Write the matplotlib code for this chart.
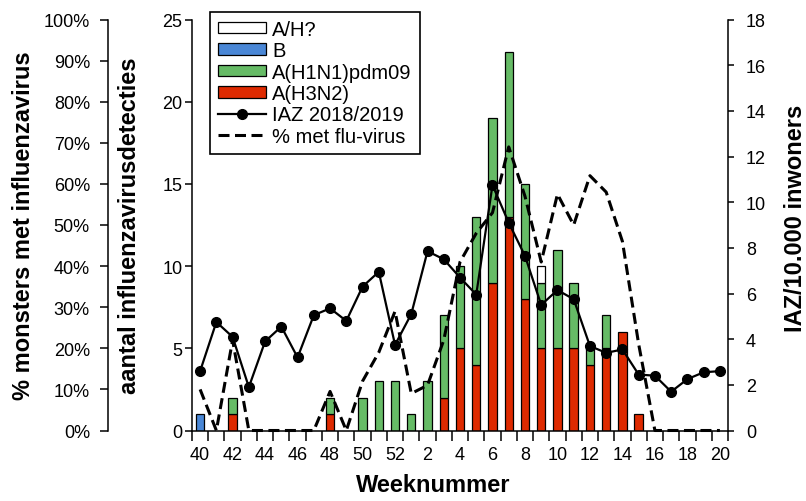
import matplotlib
matplotlib.use('Agg')
import matplotlib.pyplot as plt
import numpy as np
from matplotlib.patches import Patch
from matplotlib.lines import Line2D

plt.rcParams['font.family'] = ['Liberation Sans', 'DejaVu Sans']

# ---- data ----
weeks = ['40', '41', '42', '43', '44', '45', '46', '47', '48', '49', '50', '51', '52',
         '1', '2', '3', '4', '5', '6', '7', '8', '9', '10', '11', '12', '13', '14',
         '15', '16', '17', '18', '19', '20']
b_vals = [1, 0, 0, 0, 0, 0, 0, 0, 0, 0, 0, 0, 0,
          0, 0, 0, 0, 0, 0, 0, 0, 0, 0, 0, 0, 0, 0, 0, 0, 0, 0, 0, 0]
h3n2 = [0, 0, 1, 0, 0, 0, 0, 0, 1, 0, 0, 0, 0,
        0, 0, 2, 5, 4, 9, 13, 8, 5, 5, 5, 4, 5, 6, 1, 0, 0, 0, 0, 0]
h1n1 = [0, 0, 1, 0, 0, 0, 0, 0, 1, 0, 2, 3, 3,
        1, 3, 5, 5, 9, 10, 10, 7, 4, 6, 4, 1, 2, 0, 0, 0, 0, 0, 0, 0]
a_h = [0, 0, 0, 0, 0, 0, 0, 0, 0, 0, 0, 0, 0,
       0, 0, 0, 0, 0, 0, 0, 0, 1, 0, 0, 0, 0, 0, 0, 0, 0, 0, 0, 0]
iaz = [2.6, 4.75, 4.1, 1.9, 3.9, 4.55, 3.2, 5.05, 5.35, 4.8, 6.3, 6.95, 3.75,
       5.1, 7.85, 7.5, 6.7, 5.95, 10.75, 9.1, 7.65, 5.5, 6.15, 5.75, 3.7, 3.4,
       3.55, 2.45, 2.4, 1.7, 2.25, 2.55, 2.6]
pct = [10, 0, 22, 0, 0, 0, 0, 0, 9.5, 0, 12, 19, 29,
       9, 11, 22, 41, 48, 53, 69, 57, 41, 57.5, 50, 62, 58, 46, 21, 0, 0, 0, 0, 0]

c_blue = '#4A87D6'
c_green = '#66BB66'
c_red = '#DE2A00'

W, H = 806, 502
fig = plt.figure(figsize=(W / 100, H / 100), dpi=100)
L, R, T, B = 192, 728, 20.5, 431.5
ax = fig.add_axes([L / W, 1 - B / H, (R - L) / W, (B - T) / H])

x = np.arange(len(weeks))
bw = 0.52
edge = dict(edgecolor='black', linewidth=0.9)


def draw(vals, bottom, color):
    vals = np.asarray(vals, float)
    bottom = np.asarray(bottom, float)
    m = vals > 0
    ax.bar(x[m], vals[m], bw, bottom=bottom[m], color=color, **edge)


zeros = np.zeros(len(weeks))
h3 = np.asarray(h3n2, float)
h1 = np.asarray(h1n1, float)
draw(b_vals, zeros, c_blue)
draw(h3n2, zeros, c_red)
draw(h1n1, h3, c_green)
draw(a_h, h3 + h1, 'white')

ax.set_xlim(-0.5, len(weeks) - 0.5)
ax.set_ylim(0, 25)
ax.set_yticks(range(0, 26, 5))
ax.set_xticks(x[::2])
ax.set_xticklabels(weeks[::2])
ax.set_xticks(np.arange(-0.5, len(weeks), 1), minor=True)
ax.tick_params(axis='x', which='major', length=0, pad=11, labelsize=13)
ax.tick_params(axis='x', which='minor', length=7, width=1.1, direction='out')
ax.tick_params(axis='y', length=5, width=1.1, direction='out', labelsize=13, pad=2)
for s in ['top', 'right']:
    ax.spines[s].set_visible(False)
for s in ['left', 'bottom']:
    ax.spines[s].set_linewidth(1.1)

# percent axis
ax3 = ax.twinx()
ax3.set_ylim(0, 100)
ax3.yaxis.tick_left()
ax3.spines['left'].set_position(('outward', 60.5))
for s in ['top', 'right', 'bottom']:
    ax3.spines[s].set_visible(False)
ax3.spines['left'].set_linewidth(1.1)
ax3.set_yticks(range(0, 101, 10))
ax3.set_yticklabels([f'{v}%' for v in range(0, 101, 10)])
ax3.tick_params(axis='y', length=6, width=1.1, direction='out', labelsize=13, pad=7)
dash = (0, (3.6, 1.8))
ax3.plot(x, pct, color='black', lw=2.2, ls=dash, clip_on=False)

# IAZ axis
ax2 = ax.twinx()
ax2.set_ylim(0, 18)
ax2.set_yticks(range(0, 19, 2))
for s in ['top', 'left', 'bottom']:
    ax2.spines[s].set_visible(False)
ax2.spines['right'].set_linewidth(1.1)
ax2.tick_params(axis='y', length=4, width=1.1, direction='out', labelsize=13, pad=9)
ax2.plot(x, iaz, color='black', lw=1.6, marker='o', ms=7, clip_on=False)

handles = [Patch(facecolor='white', edgecolor='black', linewidth=0.9),
           Patch(facecolor=c_blue, edgecolor='black', linewidth=0.9),
           Patch(facecolor=c_green, edgecolor='black', linewidth=0.9),
           Patch(facecolor=c_red, edgecolor='black', linewidth=0.9),
           Line2D([], [], color='black', lw=1.6, marker='o', ms=7),
           Line2D([], [], color='black', lw=2.2, ls=dash)]
labels = ['A/H?', 'B', 'A(H1N1)pdm09', 'A(H3N2)', 'IAZ 2018/2019', '% met flu-virus']
leg = ax2.legend(handles, labels, loc='upper left',
                 bbox_to_anchor=(210 / W, 1 - 12.7 / H), bbox_transform=fig.transFigure,
                 borderaxespad=0, fancybox=False, edgecolor='black', framealpha=1,
                 fontsize=14.5, labelspacing=0.12, handlelength=2.4, handleheight=0.5,
                 handletextpad=0.3, borderpad=0.4, numpoints=1)
leg.get_frame().set_linewidth(1.2)
leg.set_zorder(10)

tkw = dict(fontsize=17, fontweight='bold', rotation=90, ha='center', va='center')
fig.text(24 / W, 1 - 226 / H, '% monsters met influenzavirus', **tkw)
fig.text(130 / W, 1 - 226 / H, 'aantal influenzavirusdetecties', **tkw)
fig.text(795 / W, 1 - 218 / H, 'IAZ/10.000 inwoners', **tkw)
fig.text(433 / W, 1 - 486 / H, 'Weeknummer', fontsize=17, fontweight='bold',
         ha='center', va='center')

fig.savefig('out.png', dpi=100)
